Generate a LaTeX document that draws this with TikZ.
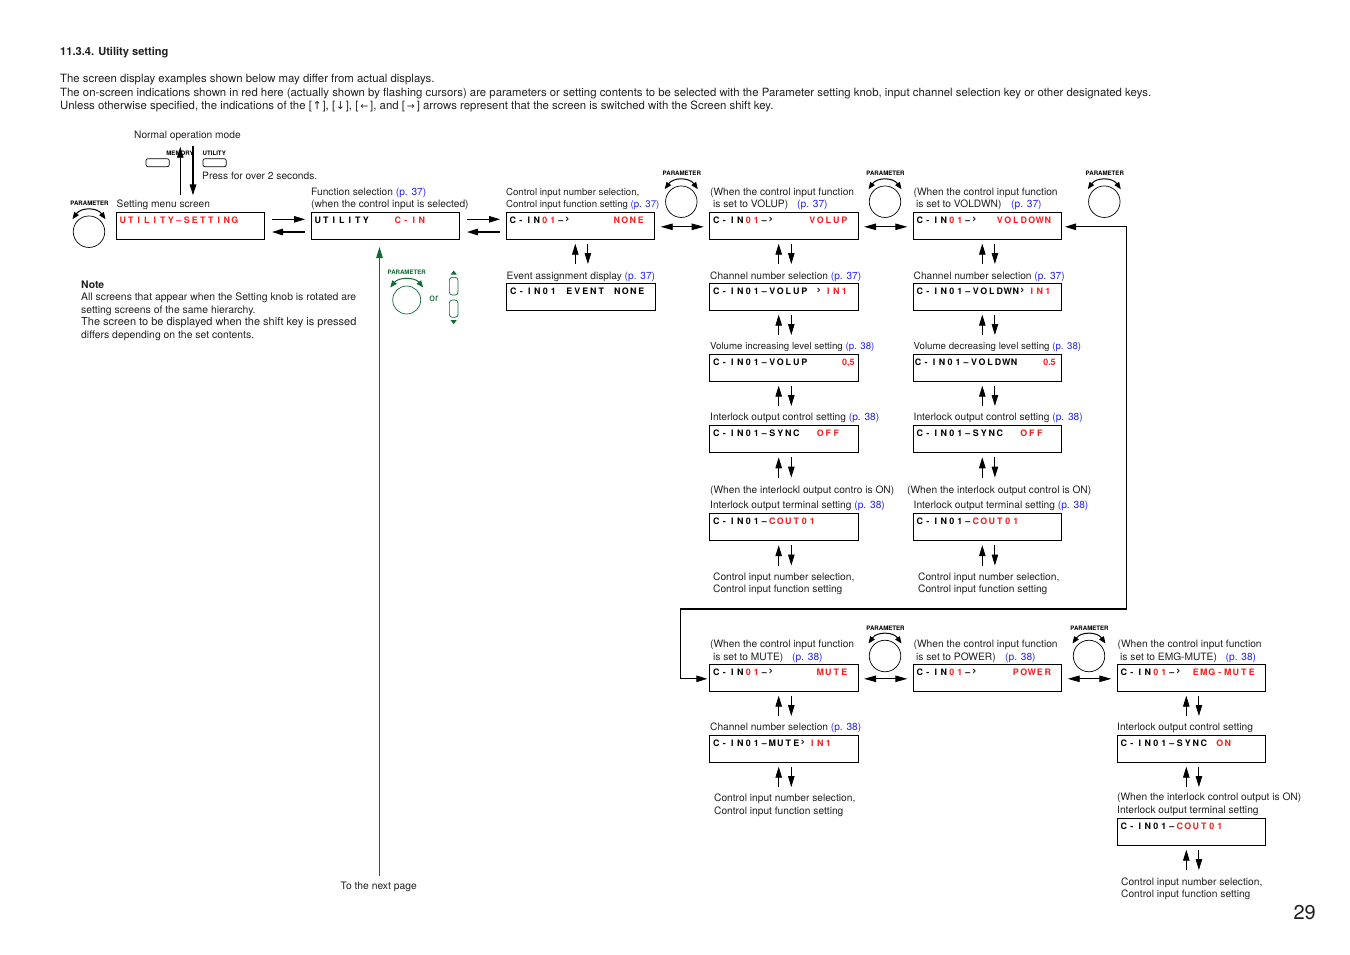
\documentclass[tikz,border=0pt]{standalone}
\usepackage{fontspec}
\usetikzlibrary{arrows.meta,calc}
\setmainfont{TeX Gyre Heros}
\newfontfamily\lcdfont{TeX Gyre Heros Bold}
\newfontfamily\lcdthin{TeX Gyre Heros}
\newfontfamily\arrowfont{DejaVu Sans}
\definecolor{pgreen}{HTML}{0F6A33}
\definecolor{pblue}{HTML}{2222F5}
\definecolor{pred}{HTML}{FF1A1A}
\newcommand{\B}[1]{\textcolor{pblue}{#1}}
\newcommand{\Ar}[1]{{\arrowfont\fontsize{9.5}{9.5}\selectfont #1}}
\newcommand{\Av}[1]{{\arrowfont\fontsize{11}{11}\selectfont #1}}
% fixed-pitch display cells, 8 units each
\newcommand{\chev}{\raisebox{-0.5pt}{\lcdthin\fontsize{15}{15}\selectfont ›\kern3pt}}
\def\cellloop#1{\ifx#1\relax\else\makebox[8pt][c]{#1}\expandafter\cellloop\fi}
\newcommand{\cells}[1]{\cellloop#1\relax}
\def\gridoff{2.6}
\newcommand{\g}[2]{\rlap{\hspace*{\dimexpr\gridoff pt+#1pt*8\relax}\cells{#2}}}
\newcommand{\gr}[2]{\rlap{\hspace*{\dimexpr\gridoff pt+#1pt*8\relax}\textcolor{pred}{\cells{#2}}}}
\newcommand{\pr}[2]{\rlap{\hspace*{#1pt}\textcolor{pred}{#2}}}
\tikzset{
  x=1pt,y=-1pt,
  txt/.style={inner sep=0pt,anchor=north west,align=left,text=black!88},
  small/.style={inner sep=0pt,font=\bfseries\fontsize{6.1}{7}\selectfont},
  screen/.style={draw=black,line width=0.9pt,inner sep=0pt,anchor=north west,outer sep=0pt,
    text width=148.4pt,text height=11pt,text depth=16pt,align=left,
    font=\lcdfont\fontsize{8.9}{10}\selectfont},
  dial/.style={draw=black,circle,line width=0.7pt,inner sep=0pt,minimum size=31.5pt},
  turn/.style={line width=1pt,{Triangle[length=7pt,width=5.5pt]}-{Triangle[length=7pt,width=5.5pt]}},
  thinar/.style={line width=0.9pt,-{Triangle[length=11pt,width=6.5pt]}},
  thickar/.style={line width=1.5pt,-{Triangle[length=11pt,width=6.5pt]}},
  bothar/.style={line width=0.9pt,{Triangle[length=12pt,width=6.5pt]}-{Triangle[length=12pt,width=6.5pt]}},
  key/.style={draw=black,line width=0.7pt,rounded corners=2pt,inner sep=0pt,minimum width=23.3pt,minimum height=8pt},
}
\newcommand{\lbl}[5][10.2]{\node[txt,font=\fontsize{#1}{12.5}\selectfont] (#2) at (#3,{#4-10}) {\rule{0pt}{10pt}#5};}
\newcommand{\scr}[4]{\node[screen] (#1) at (#2,#3) {#4};}
\newcommand{\updn}[1]{%
  \coordinate (#1-ua) at ($(#1.south)+(-5.2,4.4)$);
  \coordinate (#1-ub) at ($(#1.south)+(-5.2,24.7)$);
  \coordinate (#1-da) at ($(#1.south)+(7.4,4.4)$);
  \coordinate (#1-db) at ($(#1.south)+(7.4,24.7)$);
  \draw[thinar] (#1-ub) -- (#1-ua);
  \draw[thinar] (#1-da) -- (#1-db);}
\newcommand{\knob}[3]{%
  \node[dial] (#1) at (#2,#3) {};
  \node[small] (#1-l) at ({#2+0.5},{#3-28}) {PARAMETER};
  \draw[turn] ($(#1)+(-16.5,-12.5)$) .. controls ($(#1)+(-8,-24.5)$) and ($(#1)+(8,-24.5)$) .. ($(#1)+(16.5,-12.5)$);}
\newcommand{\leftright}[2]{%
  \draw[thinar] ($(#1.east)+(7.3,-6.5)$) -- ($(#2.west)+(-6.3,-6.5)$);
  \draw[thickar] ($(#2.west)+(-6.3,6.2)$) -- ($(#1.east)+(7.3,6.2)$);}
\newcommand{\both}[2]{\draw[bothar] ($(#1.east)+(6,1)$) -- ($(#2.west)+(-6,1)$);}
\begin{document}
\begin{tikzpicture}
\useasboundingbox (0,0) rectangle (1350,954);
% heading
\lbl[11.1]{title}{60}{55}{\textbf{11.3.4. Utility setting}}
\node[txt,font=\fontsize{11.38}{13.2}\selectfont] (intro) at (60,72) {\rule{0pt}{10pt}The screen display examples shown below may differ from actual displays.\\[0.8pt]
The on-screen indications shown in red here (actually shown by flashing cursors) are parameters or setting contents to be selected with the Parameter setting knob, input channel selection key or other designated keys.\\
Unless otherwise specified, the indications of the [\kern0.7pt\Av{↑}\kern0.7pt], [\kern0.7pt\Av{↓}\kern0.7pt], [\,\Ar{←}\,], and [\,\Ar{→}\,] arrows represent that the screen is switched with the Screen shift key.};
\lbl{normal}{134}{138}{Normal operation mode}
\node[small] (memlab) at (180,153.5) {MEMORY};
\node[small] (utillab) at (214.3,153.5) {UTILITY};
\node[key] (memkey) at (157.6,162.7) {};
\node[key] (utilkey) at (214.6,162.7) {};
\lbl{press}{202}{179.5}{Press for over 2 seconds.}
\lbl{settinglab}{116.5}{207}{Setting menu screen}
\lbl{funclab}{311}{195}{Function selection \B{(p. 37)}\\(when the control input is selected)}
\lbl[9.62]{cinlab}{506}{195}{Control input number selection,\\Control input function setting \B{(p. 37)}}
\lbl{voluplab}{710}{195}{(When the control input function\\\makebox[87pt][l]{\hspace*{3pt}is set to VOLUP)}\B{(p. 37)}}
\lbl{voldnlab}{913.5}{195}{(When the control input function\\\makebox[97.5pt][l]{\hspace*{2.5pt}is set to VOLDWN)}\B{(p. 37)}}
\lbl{eventlab}{506.5}{279}{Event assignment display \B{(p. 37)}}
\lbl[10.15]{chalab}{710}{279}{Channel number selection \B{(p. 37)}}
\lbl[10.15]{chblab}{913.5}{279}{Channel number selection \B{(p. 37)}}
\lbl[9.7]{levalab}{710}{349.5}{Volume increasing level setting \B{(p. 38)}}
\lbl[9.7]{levblab}{913.5}{349.5}{Volume decreasing level setting \B{(p. 38)}}
\lbl{ilkalab}{710}{420}{Interlock output control setting \B{(p. 38)}}
\lbl{ilkblab}{913.5}{420}{Interlock output control setting \B{(p. 38)}}
\lbl{tera}{710}{493}{(When the interlockl output contro is ON)}
\lbl{terap}{710}{508.5}{Interlock output terminal setting \B{(p. 38)}}
\lbl{terb}{907}{493}{(When the interlock output control is ON)}
\lbl{terbp}{913.5}{508.5}{Interlock output terminal setting \B{(p. 38)}}
\lbl{reta}{713}{580}{Control input number selection,\\Control input function setting}
\lbl{retb}{918}{580}{Control input number selection,\\Control input function setting}
\lbl{mutelab}{710}{647}{(When the control input function\\[0.5pt]\makebox[82pt][l]{\hspace*{3pt}is set to MUTE)}\B{(p. 38)}}
\lbl{powerlab}{913.5}{647}{(When the control input function\\[0.5pt]\makebox[91.5pt][l]{\hspace*{2.5pt}is set to POWER)}\B{(p. 38)}}
\lbl{emglab}{1117.5}{647}{(When the control input function\\[0.5pt]\makebox[108pt][l]{\hspace*{2.5pt}is set to EMG-MUTE)}\B{(p. 38)}}
\lbl[10.15]{chmlab}{710}{730.5}{Channel number selection \B{(p. 38)}}
\lbl{syelab}{1117}{730.5}{Interlock output control setting}
\lbl{retm}{714}{801.5}{Control input number selection,\\Control input function setting}
\lbl{tee}{1117}{800.5}{(When the interlock control output is ON)\\Interlock output terminal setting}
\lbl{rete}{1121}{885}{Control input number selection,\\Control input function setting}
\lbl[10.3]{nextlab}{340.5}{889}{To the next page}
\lbl[10.4]{note}{81}{288}{\textbf{Note}\\All screens that appear when the Setting knob is rotated are\\setting screens of the same hierarchy.\\{\fontsize{11}{12.5}\selectfont The screen to be displayed when the shift key is pressed}\\differs depending on the set contents.}
\node[inner sep=0pt,anchor=base east,text=black!88,font=\fontsize{20}{22}\selectfont] (pageno) at (1316,919) {29};
% screens
\scr{setting}{116.3}{212.3}{\gr{0}{UTILITY–SETTING}}
\scr{func}{311.3}{212.3}{\g{0}{UTILITY}\gr{10}{C-IN}}
\scr{cin}{506.3}{212.3}{\g{0}{C-IN}\gr{4}{01}\g{6}{–\chev}\gr{13}{NONE}}
\scr{volup}{709.7}{212.3}{\g{0}{C-IN}\gr{4}{01}\g{6}{–\chev}\gr{12}{VOLUP}}
\scr{voldn}{913.3}{212.3}{\g{0}{C-IN}\gr{4}{01}\g{6}{–\chev}\gr{10}{VOLDOWN}}
\scr{event}{506.7}{283.3}{\g{0}{C-IN01}\g{7}{EVENT}\g{13}{NONE}}
\scr{cha}{709.7}{283.3}{\g{0}{C-IN01–VOLUP}\g{13}{\chev}\gr{14}{IN1}}
\scr{chb}{913.3}{283.3}{\g{0}{C-IN01–VOLDWN\chev}\gr{14}{IN1}}
\scr{leva}{709.7}{354.3}{\g{0}{C-IN01–VOLUP}\pr{132.4}{0,5}}
\scr{levb}{913.3}{354.3}{\def\gridoff{0.9}\g{0}{C-IN01–VOLDWN}\pr{130}{0.5}}
\scr{ilka}{709.7}{425.9}{\g{0}{C-IN01–SYNC}\gr{13}{OFF}}
\scr{ilkb}{913.3}{425.9}{\g{0}{C-IN01–SYNC}\gr{13}{OFF}}
\scr{coua}{709.7}{513.8}{\g{0}{C-IN01–}\gr{7}{COUT01}}
\scr{coub}{913.3}{513.8}{\g{0}{C-IN01–}\gr{7}{COUT01}}
\scr{mute}{709.7}{664.3}{\g{0}{C-IN}\gr{4}{01}\g{6}{–\chev}\gr{13}{MUTE}}
\scr{power}{913.3}{664.3}{\g{0}{C-IN}\gr{4}{01}\g{6}{–\chev}\gr{12}{POWER}}
\scr{emg}{1117.3}{664.3}{\g{0}{C-IN}\gr{4}{01}\g{6}{–\chev}\gr{9}{EMG-MUTE}}
\scr{chm}{709.7}{735.3}{\g{0}{C-IN01–MUTE\chev}\gr{12}{IN1}}
\scr{sye}{1117.3}{735.3}{\g{0}{C-IN01–SYNC}\gr{12}{ON}}
\scr{coue}{1117.3}{818.3}{\g{0}{C-IN01–}\gr{7}{COUT01}}
% knobs
\knob{k0}{89}{231.7}
\knob{k1}{681.3}{201.7}
\knob{k2}{885}{201.7}
\knob{k3}{1104.3}{201.7}
\knob{k4}{885}{656}
\knob{k5}{1089}{656}
% green selector
\node[dial,draw=pgreen,minimum size=28pt] (gk) at (406.7,300) {};
\node[small,text=pgreen] (gkl) at (406.7,272.5) {PARAMETER};
\draw[turn,pgreen] ($(gk)+(-16.5,-12.5)$) .. controls ($(gk)+(-8,-23)$) and ($(gk)+(8,-23)$) .. ($(gk)+(16.5,-12.5)$);
\node[inner sep=0pt,text=pgreen,font=\fontsize{10.2}{12}\selectfont] (gor) at (434,298.5) {or};
\node[key,draw=pgreen,minimum width=8.7pt,minimum height=17.7pt,rounded corners=3pt] (gup) at (453.7,286.2) {};
\node[key,draw=pgreen,minimum width=8.7pt,minimum height=17.3pt,rounded corners=3pt] (gdn) at (453.7,308.7) {};
\fill[pgreen] ($(gup.north)+(0,-6.5)$) -- ($(gup.north)+(-3,-2.5)$) -- ($(gup.north)+(3,-2.5)$) -- cycle;
\fill[pgreen] ($(gdn.south)+(0,6.5)$) -- ($(gdn.south)+(-3,2.5)$) -- ($(gdn.south)+(3,2.5)$) -- cycle;
% connectors: top
\coordinate (normup) at (180.3,146.7);
\coordinate (normdn) at (193,146);
\draw[thinar] (setting.north -| normup) ++(0,-17) -- (normup);
\draw[thickar] (normdn) -- ($(setting.north -| normdn)+(0,-17)$);
\leftright{setting}{func}
\leftright{func}{cin}
\both{cin}{volup}
\both{volup}{voldn}
\both{mute}{power}
\both{power}{emg}
% loop back
\coordinate (loopr) at (1126.7,609);
\coordinate (loopl) at (680.3,609);
\draw[line width=1.6pt] (loopl) -- (loopr);
\draw[thinar] (loopr) |- ($(voldn.east)+(3.3,1)$);
\draw[thinar] (loopl) |- ($(mute.west)+(-2.4,1)$);
% green feed
\coordinate (nextup) at (379.5,876);
\draw[line width=0.9pt,pgreen,-{Triangle[length=11pt,width=6.5pt]}] (nextup) -- ($(func.south -| nextup)+(0,7.7)$);
% up/down pairs
\updn{cin}\updn{volup}\updn{cha}\updn{leva}\updn{ilka}\updn{coua}
\updn{voldn}\updn{chb}\updn{levb}\updn{ilkb}\updn{coub}
\updn{mute}\updn{chm}\updn{emg}\updn{sye}\updn{coue}
\end{tikzpicture}
\end{document}
